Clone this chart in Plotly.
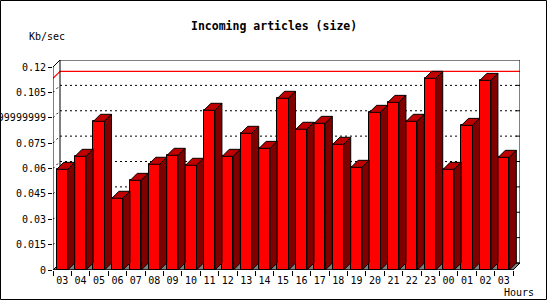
import plotly.graph_objects as go

# ---- data ----
hours = ["03", "04", "05", "06", "07", "08", "09", "10", "11", "12", "13", "14",
         "15", "16", "17", "18", "19", "20", "21", "22", "23", "00", "01", "02", "03"]
kb_per_sec = [0.0595, 0.0672, 0.0879, 0.0424, 0.0530, 0.0625, 0.0678, 0.0619,
              0.0944, 0.0672, 0.0808, 0.0719, 0.1015, 0.0832, 0.0867, 0.0743,
              0.0607, 0.0932, 0.0991, 0.0879, 0.1133, 0.0595, 0.0855, 0.1121, 0.0666]
y_tick_vals = [0, 0.015, 0.03, 0.045, 0.06, 0.075, 0.09, 0.105, 0.12]
y_tick_text = ["0", "0.015", "0.03", "0.045", "0.06", "0.075", "0.08999999999", "0.105", "0.12"]
title_text = "Incoming articles (size)"
y_unit = "Kb/sec"
x_unit = "Hours"

# ---- geometry (pixels) ----
W, H = 550, 300
ML, MR, MT, MB = 53, 30, 60, 30
PW, PH = W - ML - MR, H - MT - MB
DEPTH = 7  # 3D depth offset in px
n = len(hours)
slot_px = (PW - DEPTH) / n
dx = DEPTH / slot_px
xmin, xmax = -0.5, n - 0.5 + dx
ytop_front = 0.12
k = (PH - DEPTH) / ytop_front
dy = DEPTH / k
ymax = ytop_front + dy
bw = 0.6
FONT = "DejaVu Sans Mono"
DOT = "2px,3px"

RED, TOP, SIDE = "#ff0000", "#c00000", "#800000"

def px_x(p):
    return (p - ML) / PW

def px_y(p):
    return (H - MB - p) / PH

fig = go.Figure()

# front faces
xs = list(range(n))
fig.add_trace(go.Bar(x=xs, y=kb_per_sec, width=bw,
                     marker=dict(color=RED, line=dict(color="black", width=1)),
                     hoverinfo="skip", showlegend=False))

# top and side faces
tx, ty, sx, sy = [], [], [], []
for i, v in enumerate(kb_per_sec):
    l, r = i - bw / 2, i + bw / 2
    tx += [l, r, r + dx, l + dx, l, None]
    ty += [v, v, v + dy, v + dy, v, None]
    sx += [r, r + dx, r + dx, r, r, None]
    sy += [v, v + dy, dy, 0, v, None]
fig.add_trace(go.Scatter(x=tx, y=ty, mode="lines", fill="toself", fillcolor=TOP,
                         line=dict(color="black", width=1), hoverinfo="skip", showlegend=False))
fig.add_trace(go.Scatter(x=sx, y=sy, mode="lines", fill="toself", fillcolor=SIDE,
                         line=dict(color="black", width=1), hoverinfo="skip", showlegend=False))

shapes = []
# floor
shapes.append(dict(type="path", layer="below",
                   path=f"M {xmin},0 L {n-0.5},0 L {xmax},{dy} L {xmin+dx},{dy} Z",
                   fillcolor="#808080", line=dict(color="black", width=1)))
# back wall gridlines (dotted) incl. diagonal on side wall
for v in y_tick_vals[1:-1]:
    shapes.append(dict(type="line", layer="below", x0=xmin + dx, x1=xmax, y0=v + dy, y1=v + dy,
                       line=dict(color="black", width=1, dash=DOT)))
    shapes.append(dict(type="line", layer="below", x0=xmin, x1=xmin + dx, y0=v, y1=v + dy,
                       line=dict(color="black", width=1, dash=DOT)))
    # small tick at right edge of back wall
    shapes.append(dict(type="line", layer="below", x0=xmax - 4 / slot_px, x1=xmax, y0=v + dy, y1=v + dy,
                       line=dict(color="black", width=1)))
# max line (red)
vmax = max(kb_per_sec)
shapes.append(dict(type="line", layer="below", x0=xmin + dx, x1=xmax, y0=vmax + dy, y1=vmax + dy,
                   line=dict(color="red", width=1.2)))
shapes.append(dict(type="line", layer="below", x0=xmin, x1=xmin + dx, y0=vmax, y1=vmax + dy,
                   line=dict(color="red", width=1.2)))
# back wall frame
shapes.append(dict(type="rect", layer="below", x0=xmin + dx, x1=xmax, y0=dy, y1=ymax,
                   line=dict(color="black", width=1)))
# front axes and side wall edges
shapes.append(dict(type="line", x0=xmin, x1=xmin, y0=0, y1=ytop_front, line=dict(color="black", width=1)))
shapes.append(dict(type="line", x0=xmin, x1=xmin + dx, y0=ytop_front, y1=ymax, line=dict(color="black", width=1)))
shapes.append(dict(type="line", x0=xmin, x1=n - 0.5, y0=0, y1=0, line=dict(color="black", width=1)))
shapes.append(dict(type="line", x0=n - 0.5, x1=xmax, y0=0, y1=dy, line=dict(color="black", width=1)))
# outer border of the image
shapes.append(dict(type="rect", xref="paper", yref="paper",
                   x0=px_x(0.5), x1=px_x(546.5), y0=px_y(0.5), y1=px_y(299.5),
                   line=dict(color="black", width=1)))

annotations = [
    dict(text=f"<b>{title_text}</b>", xref="paper", yref="paper", x=px_x(274), y=px_y(26),
         showarrow=False, xanchor="center", yanchor="middle",
         font=dict(family=FONT, size=11.5, color="black")),
    dict(text=y_unit, xref="paper", yref="paper", x=px_x(47), y=px_y(37),
         showarrow=False, xanchor="center", yanchor="middle",
         font=dict(family=FONT, size=10, color="black")),
    dict(text=x_unit, xref="paper", yref="paper", x=px_x(519), y=px_y(292),
         showarrow=False, xanchor="center", yanchor="middle",
         font=dict(family=FONT, size=10, color="black")),
]

fig.update_layout(
    width=W, height=H,
    margin=dict(l=ML, r=MR, t=MT, b=MB, pad=0, autoexpand=False),
    paper_bgcolor="white", plot_bgcolor="white",
    bargap=0, showlegend=False,
    font=dict(family=FONT, size=10, color="black"),
    shapes=shapes, annotations=annotations,
    xaxis=dict(range=[xmin, xmax], tickmode="array", tickvals=xs, ticktext=hours,
               ticks="", showgrid=False, zeroline=False, showline=False, automargin=False,
               ticklabelstandoff=3,
               tickfont=dict(family=FONT, size=10, color="black")),
    xaxis2=dict(range=[xmin, xmax], overlaying="x", anchor="y", side="bottom",
                tickmode="array", tickvals=[i - 0.5 for i in range(n + 1)],
                ticks="outside", ticklen=5, tickcolor="black", showticklabels=False,
                showgrid=False, zeroline=False, showline=False, automargin=False),
    yaxis=dict(range=[0, ymax], tickmode="array", tickvals=y_tick_vals, ticktext=y_tick_text,
               ticks="outside", ticklen=4, tickcolor="black", showgrid=False, zeroline=False,
               showline=False, automargin=False,
               tickfont=dict(family=FONT, size=10, color="black")),
)
fig.add_trace(go.Scatter(x=[None], y=[None], xaxis="x2", showlegend=False, hoverinfo="skip"))

fig.write_html("out.html")
